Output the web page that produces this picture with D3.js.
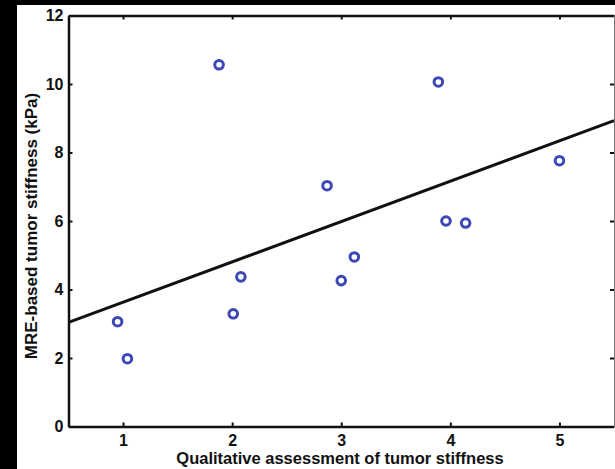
<!DOCTYPE html>
<html>
<head>
<meta charset="UTF-8">
<title>MRE vs qualitative stiffness</title>
<script src="https://cdn.jsdelivr.net/npm/d3@7"></script>
<style>
  body { margin: 0; background: #000; }
  svg { display: block; }
  text { font-family: "Liberation Sans", Arial, sans-serif; font-weight: bold; fill: #111; }
</style>
</head>
<body>
<script>
// data
var qualScore = [0.95, 1.04, 1.88, 2.01, 2.08, 2.87, 3.0, 3.12, 3.89, 3.96, 4.14, 5.0];
var mreKpa    = [3.06, 1.98, 10.56, 3.29, 4.37, 7.03, 4.26, 4.95, 10.06, 6.0, 5.94, 7.76];
var fitX = [0.5, 5.5];
var fitY = [3.04, 8.93];
var xTicks = [1, 2, 3, 4, 5];
var yTicks = [0, 2, 4, 6, 8, 10, 12];

var w = 615, h = 469;
// note: "top" is taken by window.top, so prefixed names
var padL = 68.5, padR = 614, padT = 15.5, padB = 426.5;

var svg = d3.select("body").append("svg")
  .attr("width", w).attr("height", h);

// white page, black border strips like the scan
svg.append("rect").attr("x", 0).attr("y", 0).attr("width", w).attr("height", h).attr("fill", "#000");
svg.append("rect").attr("x", 17).attr("y", 5).attr("width", w - 17).attr("height", h - 5).attr("fill", "#fff");

var x = d3.scaleLinear().domain([0.5, 5.5]).range([padL, padR]);
var y = d3.scaleLinear().domain([0, 12]).range([padB, padT]);

// axes, matlab style: ticks inside, mirrored on top/right
var fmt = d3.format("d");
var xAxis = d3.axisBottom(x).tickValues(xTicks).tickFormat(fmt).tickSizeInner(-4).tickSizeOuter(0).tickPadding(8);
var yAxis = d3.axisLeft(y).tickValues(yTicks).tickFormat(fmt).tickSizeInner(-4).tickSizeOuter(0).tickPadding(5);

var gx = svg.append("g").attr("transform", "translate(0," + padB + ")").call(xAxis);
var gy = svg.append("g").attr("transform", "translate(" + padL + ",0)").call(yAxis);
var gxt = svg.append("g").attr("transform", "translate(0," + padT + ")")
  .call(d3.axisTop(x).tickValues(xTicks).tickSizeInner(-4).tickSizeOuter(0).tickFormat(""));
var gyr = svg.append("g").attr("transform", "translate(" + padR + ",0)")
  .call(d3.axisRight(y).tickValues(yTicks).tickSizeInner(-4).tickSizeOuter(0).tickFormat(""));

[gx, gy, gxt].forEach(function(g) {
  g.select(".domain").attr("stroke", "#111").attr("stroke-width", 2.5);
  g.selectAll(".tick line").attr("stroke", "#111").attr("stroke-width", 2);
  g.selectAll(".tick text").style("font-size", "16px").attr("fill", "#111");
});
gyr.select(".domain").attr("stroke", "#777").attr("stroke-width", 1);
gyr.selectAll(".tick line").attr("stroke", "#111").attr("stroke-width", 2);

// fitted line
svg.append("line")
  .attr("x1", x(fitX[0])).attr("y1", y(fitY[0]))
  .attr("x2", x(fitX[1])).attr("y2", y(fitY[1]))
  .attr("stroke", "#111").attr("stroke-width", 3);

// points
svg.append("g").selectAll("circle")
  .data(d3.zip(qualScore, mreKpa))
  .enter().append("circle")
  .attr("cx", function(d) { return x(d[0]); })
  .attr("cy", function(d) { return y(d[1]); })
  .attr("r", 4.3)
  .attr("fill", "none")
  .attr("stroke", "#3b48b5")
  .attr("stroke-width", 3);

// axis titles
svg.append("text")
  .attr("x", 340).attr("y", 464)
  .attr("text-anchor", "middle")
  .style("font-size", "16.5px")
  .text("Qualitative assessment of tumor stiffness");

svg.append("text")
  .attr("transform", "translate(37,226) rotate(-90)")
  .attr("text-anchor", "middle")
  .style("font-size", "17px")
  .text("MRE-based tumor stiffness (kPa)");
</script>
</body>
</html>
